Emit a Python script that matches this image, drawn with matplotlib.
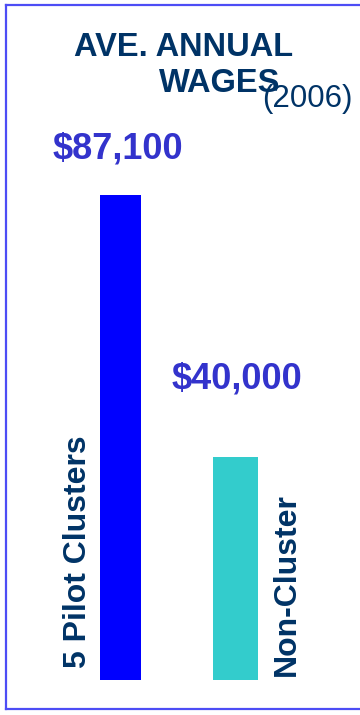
import matplotlib
matplotlib.use("Agg")
import matplotlib.pyplot as plt
from matplotlib.lines import Line2D

# Data
categories = ["5 Pilot Clusters", "Non-Cluster"]
wages = [87100, 40000]
value_labels = ["$87,100", "$40,000"]
title_line1 = "AVE. ANNUAL"
title_line2 = "WAGES"
year_note = "(2006)"

W, H = 360, 715
plt.rcParams["font.family"] = ["Liberation Sans", "DejaVu Sans"]

fig = plt.figure(figsize=(W / 100, H / 100), dpi=100)
fig.patch.set_facecolor("white")


def fx(px):
    return px / W


def fy(py):
    return (H - py) / H


# Plot area: baseline at 680 px from top, bars spaced 115 px apart
base_px = 680
ax = fig.add_axes([0, fy(base_px), 1, (base_px) / H])
ax.set_xlim(-120.5 / 115, (W - 120.5) / 115)
ax.set_ylim(0, 87100 * base_px / 485)
ax.bar([0, 1], wages, width=[0.357, 0.391], color=["#0000FF", "#33CCCC"],
       align="center", zorder=2)
ax.axis("off")

navy = "#003366"
purple = "#3333CC"

# Title
fig.text(fx(183.5), fy(56), title_line1, ha="center", va="baseline",
         fontsize=23.5, fontweight="bold", color=navy)
fig.text(fx(219.5), fy(92), title_line2, ha="center", va="baseline",
         fontsize=23.5, fontweight="bold", color=navy)
fig.text(fx(262), fy(107), year_note, ha="left", va="baseline",
         fontsize=22.5, color=navy)

# Value labels
label_pos = [(118, 159), (237, 389)]
for (x, y), txt in zip(label_pos, value_labels):
    fig.text(fx(x), fy(y), txt, ha="center", va="baseline",
             fontsize=26, fontweight="bold", color=purple)

# Category labels, vertical
cat_pos = [(63.5, 668), (271.5, 676)]
for (x, y), txt in zip(cat_pos, categories):
    fig.text(fx(x), fy(y), txt, rotation=90, ha="left", va="bottom",
             fontsize=23, fontweight="bold", color=navy)

# Frame around the chart (open on the right)
border = "#4D4DF5"
lw = 1.6
fig.add_artist(Line2D([fx(5.5), fx(5.5)], [fy(4.5), fy(709)], color=border,
                      lw=lw, transform=fig.transFigure))
fig.add_artist(Line2D([fx(5.5), fx(W)], [fy(4.5), fy(4.5)], color=border,
                      lw=lw, transform=fig.transFigure))
fig.add_artist(Line2D([fx(5.5), fx(W)], [fy(709), fy(709)], color=border,
                      lw=lw, transform=fig.transFigure))

fig.savefig("out.png", dpi=100, facecolor="white")
